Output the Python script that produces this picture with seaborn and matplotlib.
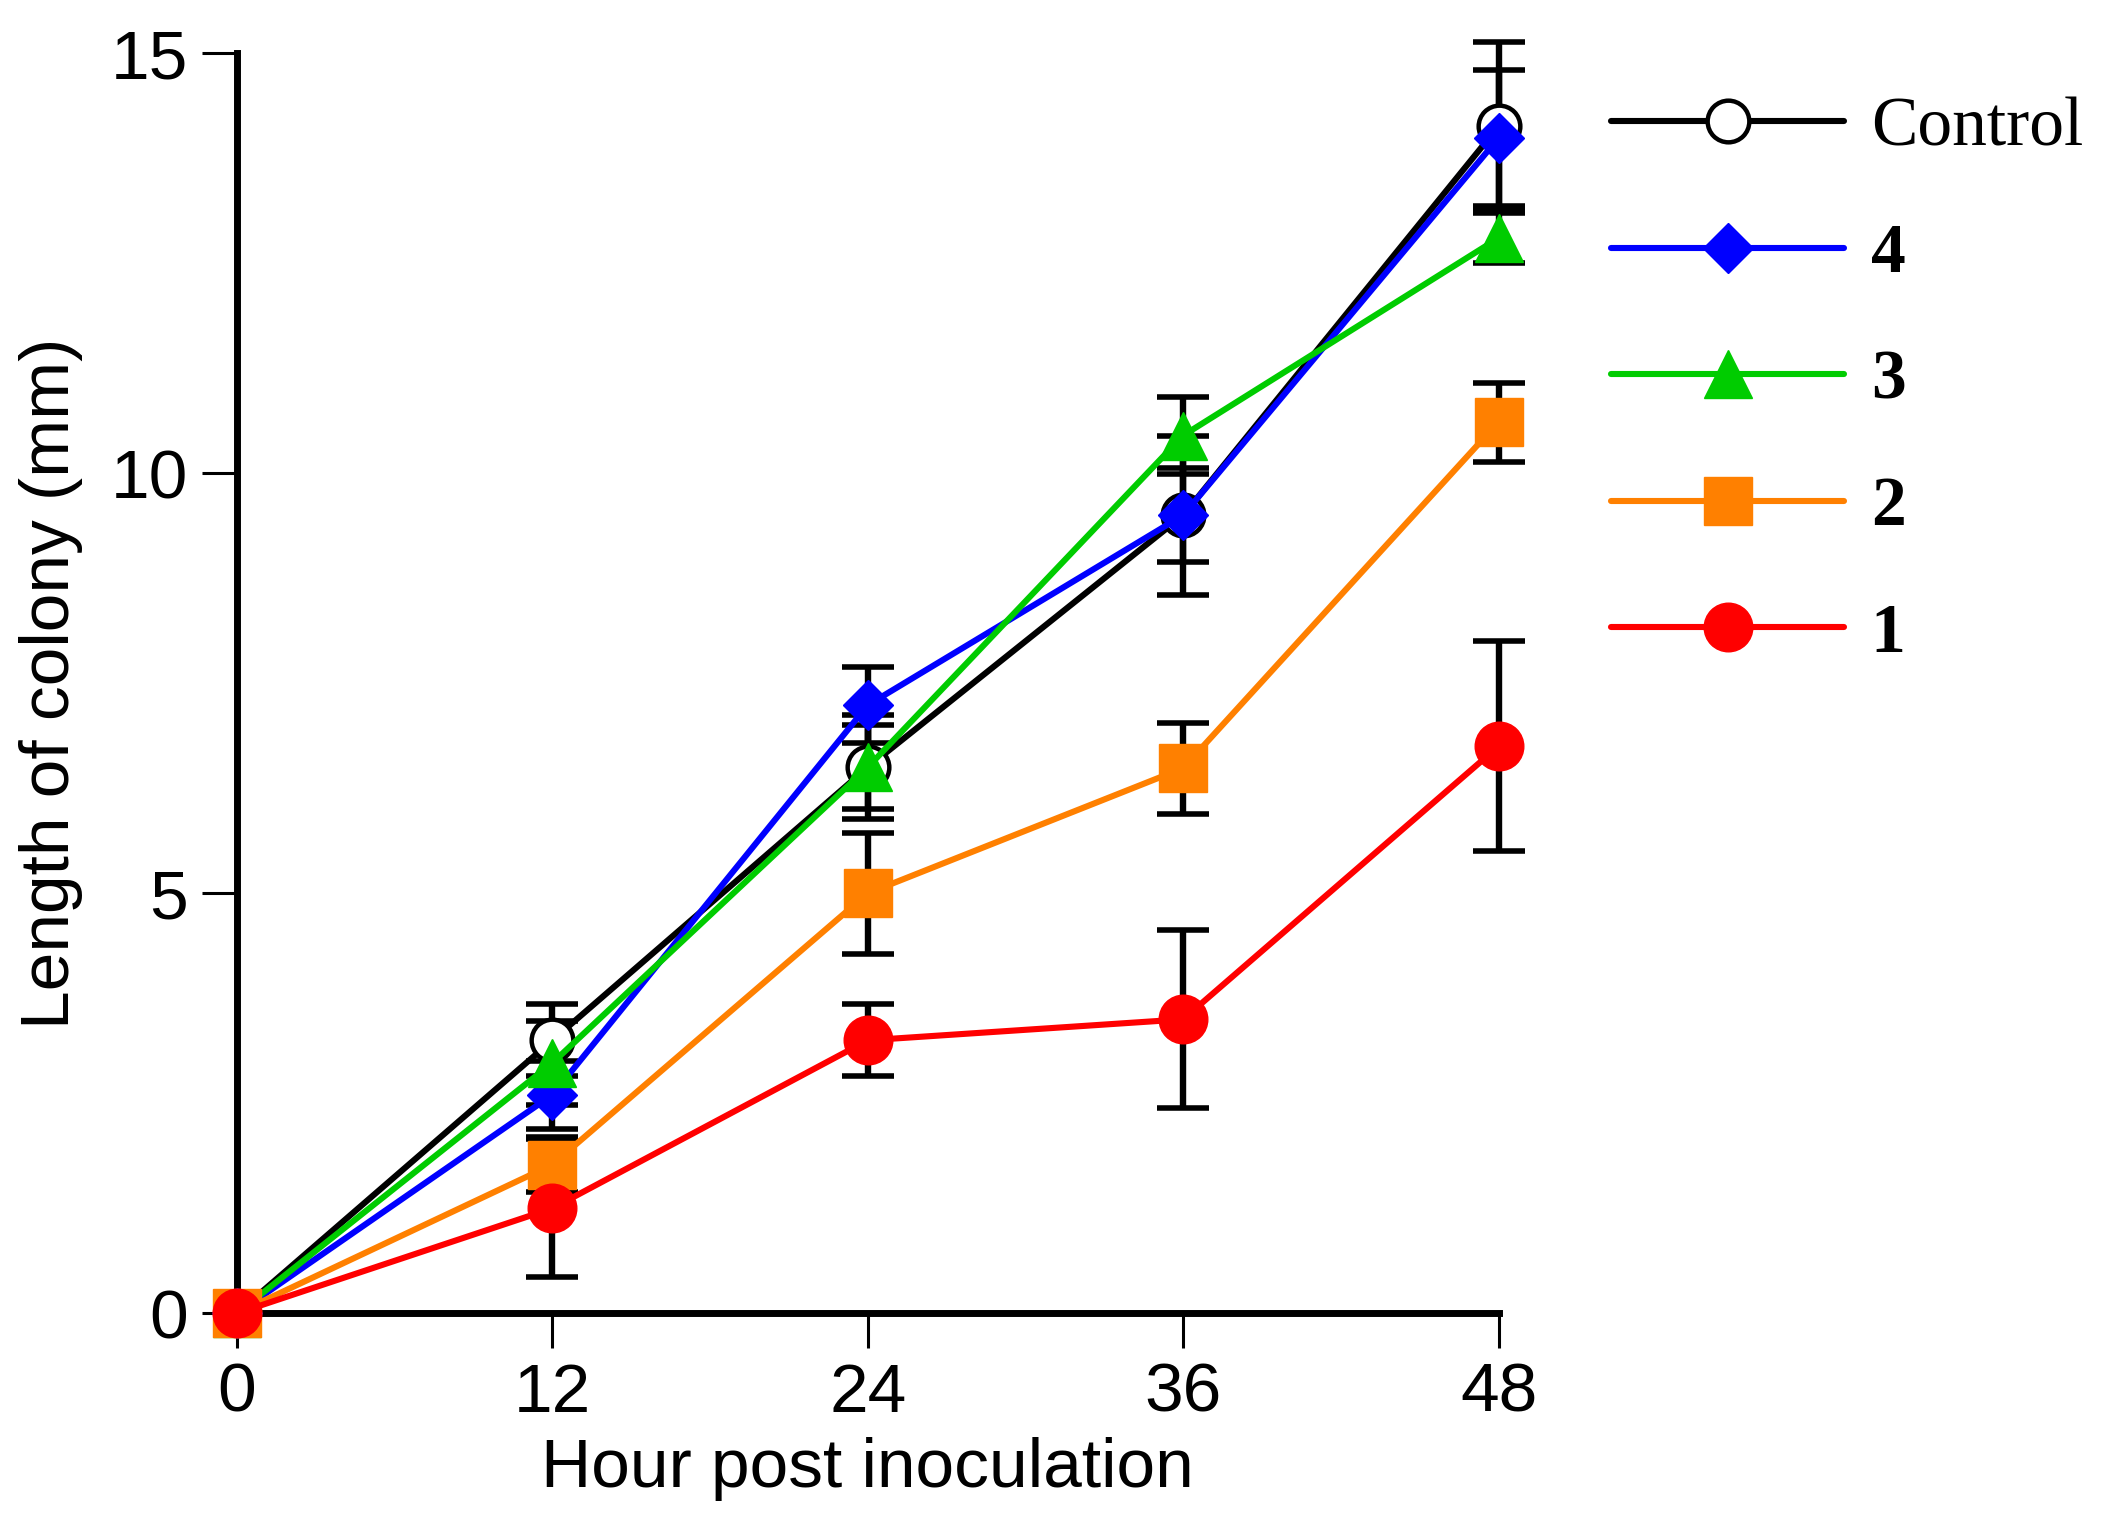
import numpy as np
import pandas as pd
import matplotlib
matplotlib.use("Agg")
import matplotlib.pyplot as plt
import seaborn as sns

hours = [0, 12, 24, 36, 48]
series_names = ["Control", "4", "3", "2", "1"]
control_mean = [0, 3.25, 6.5, 9.5, 14.13]
control_err = [0, 0.43, 0.5, 0.56, 1.0]
s4_mean = [0, 2.6, 7.24, 9.5, 13.99]
s4_err = [0, 0.4, 0.45, 0.95, 0.81]
s3_mean = [0, 2.98, 6.5, 10.45, 12.8]
s3_err = [0, 0.5, 0.62, 0.46, 0.3]
s2_mean = [0, 1.77, 5.0, 6.49, 10.61]
s2_err = [0, 0.33, 0.72, 0.54, 0.47]
s1_mean = [0, 1.25, 3.25, 3.5, 6.75]
s1_err = [0, 0.82, 0.43, 1.06, 1.25]

means = [control_mean, s4_mean, s3_mean, s2_mean, s1_mean]
errs = [control_err, s4_err, s3_err, s2_err, s1_err]
colors = ["#000000", "#0000FF", "#00CC00", "#FF8000", "#FF0000"]
markers = ["o", "D", "^", "s", "o"]
msizes = [15.0, 12.5, 17.5, 17.0, 17.5]
faces = ["#FFFFFF", "#0000FF", "#00CC00", "#FF8000", "#FF0000"]

sns.set_theme(style="white")
plt.rcParams["font.family"] = ["Liberation Sans", "DejaVu Sans"]
plt.rcParams["text.color"] = "black"
plt.rcParams["axes.labelcolor"] = "black"
plt.rcParams["xtick.color"] = "black"
plt.rcParams["ytick.color"] = "black"

DPI = 200
fig = plt.figure(figsize=(2105 / DPI, 1524 / DPI), dpi=DPI)
ax = fig.add_axes([237 / 2105, 1 - 1313.3 / 1524, (1498.5 - 237) / 2105, (1313.3 - 53.3) / 1524])

# error bars first (below markers)
for m, e in zip(means, errs):
    ax.errorbar(hours[1:], m[1:], yerr=e[1:], fmt="none", ecolor="black",
                elinewidth=2.3, capsize=9.5, capthick=2.0, zorder=2, clip_on=False)

handles = []
for i, (name, m) in enumerate(zip(series_names, means)):
    df = pd.DataFrame({"hour": hours, "length": m})
    sns.lineplot(data=df, x="hour", y="length", ax=ax, color=colors[i],
                 linewidth=2.2, marker=markers[i], markersize=msizes[i],
                 markerfacecolor=faces[i], markeredgecolor=colors[i],
                 markeredgewidth=1.6 if i == 0 else 0.5, zorder=3 + i,
                 clip_on=False, legend=False)
    ln = ax.lines[-1]
    ln.set_markerfacecolor(faces[i])
    ln.set_markeredgecolor(colors[i])
    ln.set_markeredgewidth(1.6 if i == 0 else 0.5)
    ln.set_label(name)
    handles.append(ln)

ax.set_xlim(0, 48)
ax.set_ylim(0, 15)
ax.set_xticks(hours)
ax.set_yticks([0, 5, 10, 15])
ax.set_xlabel("Hour post inoculation", fontsize=25, labelpad=4)
ax.set_ylabel("Length of colony (mm)", fontsize=25, labelpad=10)
ax.tick_params(axis="both", which="major", labelsize=25, direction="out",
               length=12.5, width=1.1, color="black", labelcolor="black", pad=5,
               bottom=True, left=True)
for s in ["top", "right"]:
    ax.spines[s].set_visible(False)
for s in ["left", "bottom"]:
    ax.spines[s].set_linewidth(2.5)
    ax.spines[s].set_color("black")
ax.grid(False)

leg = fig.legend(handles=handles, labels=series_names, loc="upper left",
                 bbox_to_anchor=(1611 / 2105, 1 - 97 / 1524), frameon=False,
                 borderpad=0, borderaxespad=0, handlelength=3.36,
                 handletextpad=0.38, labelspacing=0.9, numpoints=1,
                 prop={"family": ["Liberation Serif"], "weight": "bold", "size": 25})
for j, t in enumerate(leg.get_texts()):
    t.set_color("black")
    if j == 0:
        t.set_fontweight("normal")

fig.savefig("out.png", dpi=DPI)
